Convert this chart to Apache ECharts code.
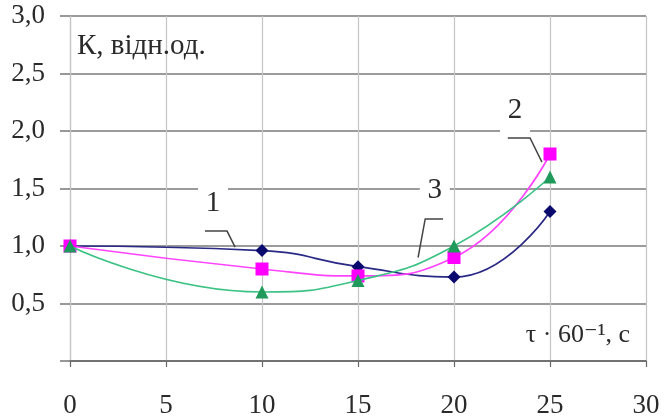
<!DOCTYPE html>
<html>
<head>
<meta charset="utf-8">
<script src="https://cdn.jsdelivr.net/npm/echarts@6/dist/echarts.min.js"></script>
<style>
  html, body { margin: 0; padding: 0; background: #fff; }
  #chart { width: 664px; height: 420px; }
</style>
</head>
<body>
<div id="chart"></div>
<script>
// Time, τ·60⁻¹ (s)
const times = [0, 10, 15, 20, 25];
// Relative coefficient K for the three regimes
const series1 = [1.0, 0.96, 0.82, 0.73, 1.3];
const series2 = [1.0, 0.8, 0.74, 0.9, 1.8];
const series3 = [1.0, 0.6, 0.7, 1.0, 1.6];
const seriesNames = ['1', '2', '3'];

// Curve callouts: label anchor and leader polyline, in data units
const calloutText = ['1', '2', '3'];
const calloutAt = [[7.45, 1.37], [23.18, 2.18], [19.0, 1.48]];
const calloutLeader = [
  [[7.03, 1.13], [8.18, 1.13], [8.6, 0.99]],
  [[22.8, 1.94], [23.96, 1.94], [24.58, 1.73]],
  [[19.43, 1.235], [18.5, 1.235], [18.13, 0.9]]
];

const serif = '"Liberation Serif", "DejaVu Serif", serif';
const chart = echarts.init(document.getElementById('chart'), null, { renderer: 'canvas' });

function pairs(vals) { return times.map((t, i) => [t, vals[i]]); }

const option = {
  animation: false,
  backgroundColor: '#fff',
  grid: { left: 70, right: 18, top: 16, bottom: 59, containLabel: false },
  xAxis: {
    type: 'value', min: 0, max: 30, interval: 5,
    axisLine: { show: true, lineStyle: { color: '#666', width: 1.5 } },
    axisTick: { show: true, length: 6, lineStyle: { color: '#666', width: 1.2 } },
    axisLabel: { margin: 31, fontFamily: serif, fontSize: 27, color: '#2a2a2a' },
    splitLine: { show: true, lineStyle: { color: '#c4c4c4', width: 1.2 } }
  },
  yAxis: {
    type: 'value', min: 0, max: 3, interval: 0.5,
    axisLine: { show: true, lineStyle: { color: '#c4c4c4', width: 1.2 } },
    axisTick: { show: true, length: 10, lineStyle: { color: '#777', width: 1.5 } },
    axisLabel: {
      margin: 25, fontFamily: serif, fontSize: 27, color: '#2a2a2a',
      formatter: v => v === 0 ? '' : v.toFixed(1).replace('.', ',')
    },
    splitLine: { show: true, lineStyle: { color: '#7a7a7a', width: 1.5 } }
  },
  series: [
    {
      name: seriesNames[0], type: 'line', data: pairs(series1), smooth: 0.5,
      symbol: 'diamond', symbolSize: 13,
      lineStyle: { color: '#2a2a86', width: 1.7 },
      itemStyle: { color: '#0a0a6e' }, z: 3
    },
    {
      name: seriesNames[1], type: 'line', data: pairs(series2), smooth: 0.5,
      symbol: 'rect', symbolSize: 13,
      lineStyle: { color: '#ff44ff', width: 1.7 },
      itemStyle: { color: '#ff00ff' }, z: 4
    },
    {
      name: seriesNames[2], type: 'line', data: pairs(series3), smooth: 0.5,
      symbol: 'triangle', symbolSize: 13,
      lineStyle: { color: '#3cc284', width: 1.7 },
      itemStyle: { color: '#1f9a5a' }, z: 5
    }
  ]
};
chart.setOption(option);

// Axis titles and curve callouts placed through the grid's coordinate system
const px = p => chart.convertToPixel({ gridIndex: 0 }, p);
const graphics = [];
const origin = px([0, 0]);
const corner = px([30, 3]);

graphics.push({
  type: 'text', z: 10,
  style: {
    text: 'К, відн.од.', font: '29px ' + serif, fill: '#2a2a2a',
    x: origin[0] + 7, y: corner[1] + 30, textVerticalAlign: 'middle'
  }
});
graphics.push({
  type: 'text', z: 10,
  style: {
    text: 'τ · 60⁻¹, с', font: '26px ' + serif, fill: '#2a2a2a',
    x: corner[0] - 16, y: origin[1] - 26, textAlign: 'right', textVerticalAlign: 'middle'
  }
});

calloutText.forEach((t, i) => {
  const c = px(calloutAt[i]);
  graphics.push({
    type: 'rect', z: 8,
    shape: { x: c[0] - 15, y: c[1] - 22, width: 30, height: 44 },
    style: { fill: '#fff' }
  });
  graphics.push({
    type: 'text', z: 10,
    style: {
      text: t, font: '29px ' + serif, fill: '#2a2a2a',
      x: c[0], y: c[1], textAlign: 'center', textVerticalAlign: 'middle'
    }
  });
  graphics.push({
    type: 'polyline', z: 9,
    shape: { points: calloutLeader[i].map(px) },
    style: { stroke: '#444', lineWidth: 1.5, fill: null }
  });
});

chart.setOption({ graphic: graphics });
</script>
</body>
</html>
